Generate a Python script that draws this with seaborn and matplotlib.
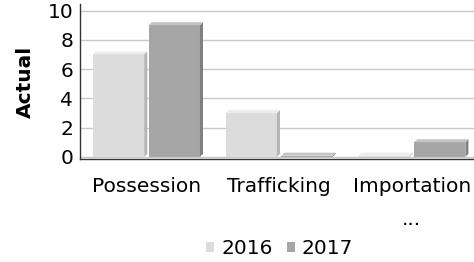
import matplotlib
matplotlib.use("Agg")
import matplotlib.pyplot as plt
from matplotlib.patches import Polygon, Patch
import seaborn as sns
import pandas as pd

categories = ["Possession", "Trafficking", "Importation\n..."]
years = ["2016", "2017"]
values_2016 = [7, 3, 0]
values_2017 = [9, 0, 1]

colors = {"2016": "#dcdcdc", "2017": "#a6a6a6"}
side_colors = {"2016": "#b4b4b4", "2017": "#808080"}
top_colors = {"2016": "#ececec", "2017": "#c4c4c4"}

df = pd.DataFrame({
    "Category": categories * 2,
    "Year": [years[0]] * 3 + [years[1]] * 3,
    "Actual": values_2016 + values_2017,
})

sns.set_theme(style="white")
plt.rcParams["font.family"] = ["DejaVu Sans"]
plt.rcParams["text.color"] = "black"

fig = plt.figure(figsize=(4.74, 2.62), dpi=100)
ax = fig.add_axes([0.169, 0.393, 0.84, 0.592])

sns.barplot(data=df, x="Category", y="Actual", hue="Year", order=categories,
            hue_order=years, palette=colors, width=0.84, gap=0.08,
            saturation=1, ax=ax, legend=False, linewidth=0)

ax.set_ylim(-0.15, 10.45)
ax.set_xlim(-0.5, 2.5)
ax.set_yticks([0, 2, 4, 6, 8, 10])
ax.yaxis.grid(True, color="#c8c8c8", linewidth=1)
ax.set_axisbelow(True)
for s in ["top", "right"]:
    ax.spines[s].set_visible(False)
for s in ["left", "bottom"]:
    ax.spines[s].set_color("#333333")
    ax.spines[s].set_linewidth(1)
ax.tick_params(axis="y", labelsize=14.5, length=0, pad=5, colors="black")
ax.tick_params(axis="x", labelsize=14.5, length=0, pad=13, colors="black")
for t in ax.get_xticklabels():
    t.set_linespacing(1.9)
ax.set_xlabel("")
ax.set_ylabel("Actual", fontsize=14.5, fontweight="bold", labelpad=9, color="black")

# 3D-like side and top faces
dx, dy = 3, 3  # pixels
bars = list(ax.patches)
for i, p in enumerate(bars):
    yr = years[i // 3]
    x0 = p.get_x()
    w = p.get_width()
    h = max(p.get_height(), 0.08)
    if p.get_height() < 0.08:
        p.set_height(0.08)
    tr = ax.transData
    pts_side = [tr.transform((x0 + w, 0)), tr.transform((x0 + w, h))]
    pts_side += [pts_side[1] + [dx, dy], pts_side[0] + [dx, dy]]
    fig.add_artist(Polygon(pts_side, closed=True, transform=None,
                           facecolor=side_colors[yr], edgecolor="none", zorder=3))
    pts_top = [tr.transform((x0, h)), tr.transform((x0 + w, h))]
    pts_top += [pts_top[1] + [dx, dy], pts_top[0] + [dx, dy]]
    fig.add_artist(Polygon(pts_top, closed=True, transform=None,
                           facecolor=top_colors[yr], edgecolor="none", zorder=3))

handles = [Patch(facecolor=colors[y], edgecolor="none") for y in years]
fig.legend(handles, years, loc="center", bbox_to_anchor=(0.59, 0.05), ncol=2,
           frameon=False, fontsize=14.5, handlelength=0.4, handleheight=0.4,
           handletextpad=0.35, columnspacing=0.7)

fig.savefig("out.png", dpi=100)
